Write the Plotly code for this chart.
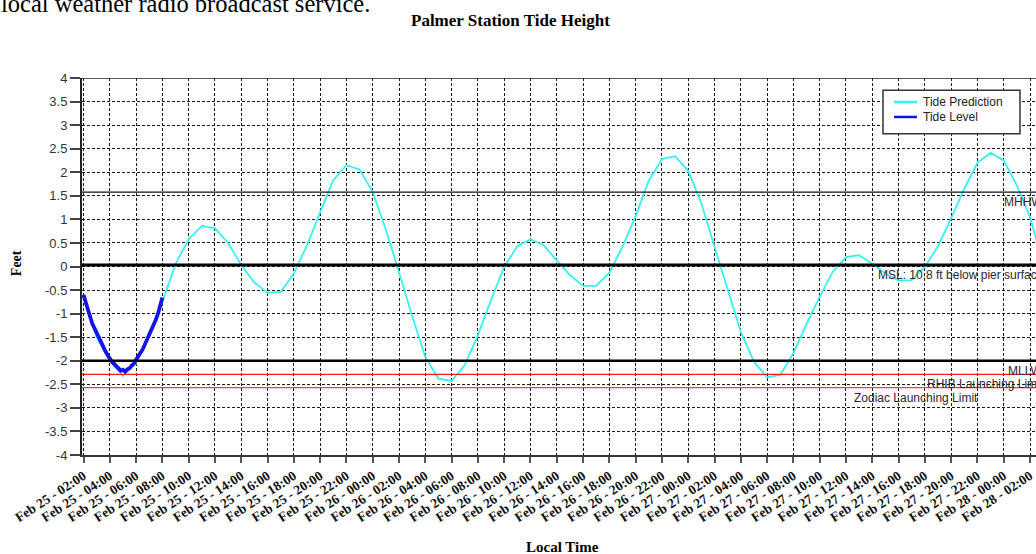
import pandas as pd
import plotly.graph_objects as go

# Hourly predicted tide height (ft), starting Feb 25 02:00
prediction_start = "2023-02-25 02:00"
predicted_ft = [
    -0.62, -1.50, -2.00, -2.32, -2.05, -1.48, -0.75, 0.05, 0.58, 0.86,
    0.81, 0.50, 0.03, -0.34, -0.56, -0.54, -0.15, 0.45, 1.15, 1.83,
    2.15, 2.06, 1.58, 0.78, -0.12, -1.05, -1.92, -2.38, -2.43, -2.09,
    -1.46, -0.71, -0.01, 0.43, 0.58, 0.45, 0.13, -0.18, -0.41, -0.41,
    -0.13, 0.42, 1.07, 1.82, 2.28, 2.34, 2.03, 1.34, 0.42, -0.50,
    -1.39, -2.02, -2.35, -2.30, -1.84, -1.22, -0.64, -0.11, 0.20, 0.24,
    0.06, -0.15, -0.30, -0.29, -0.01, 0.43, 1.02, 1.65, 2.20, 2.41,
    2.25, 1.72, 1.05, 0.05,
]

# Measured tide level (ft), every 10 minutes from Feb 25 02:00
observed_start = "2023-02-25 02:00"
observed_ft = [
    -0.60, -0.78, -0.93, -1.06, -1.21, -1.30, -1.43, -1.51, -1.61, -1.70,
    -1.80, -1.86, -1.95, -2.02, -2.07, -2.12, -2.16, -2.21, -2.19, -2.23,
    -2.18, -2.16, -2.10, -2.06, -1.98, -1.92, -1.83, -1.76, -1.66, -1.55,
    -1.47, -1.36, -1.23, -1.13, -1.00, -0.86, -0.66,
]

# Reference levels (ft): label, value, colour, width, where the caption starts
ref_names = ["MHHW", "MSL: 10.8 ft below pier surface", "MLLW",
             "RHIB Launching Limit", "Zodiac Launching Limit"]
ref_values = [1.58, 0.03, -2.0, -2.29, -2.57]
ref_colors = ["#111111", "#000000", "#000000", "#ff1a1a", "#ff3b3b"]
ref_widths = [1.2, 3, 2.5, 1.2, 1.2]
ref_label_at = ["2023-02-27 23:51", "2023-02-27 14:17", "2023-02-28 00:10",
                "2023-02-27 18:00", "2023-02-27 12:26"]

y_ticks = [4, 3.5, 3, 2.5, 2, 1.5, 1, 0.5, 0, -0.5, -1, -1.5, -2, -2.5,
           -3, -3.5, -4]
y_tick_text = ["4", "3.5", "3", "2.5", "2", "1.5", "1", "0.5", "0", "-0.5",
               "-1", "-1.5", "-2", "-2.5", "-3", "-3.5", "-4"]

series_names = ["Tide Prediction", "Tide Level"]
series_colors = ["#35F2F2", "#1414E8"]
series_widths = [1.8, 3.8]

pred_times = pd.date_range(prediction_start, periods=len(predicted_ft), freq="h")
obs_times = pd.date_range(observed_start, periods=len(observed_ft), freq="10min")

# plot area in pixels: x 82..1036, y 78..455
PL, PR, PT, PB = 82, 1036, 77.7, 455


def px(x):
    return (x - PL) / (PR - PL)


def py(y):
    return (PB - y) / (PB - PT)


fig = go.Figure()
for times, vals, name, col, w in zip([pred_times, obs_times],
                                     [predicted_ft, observed_ft],
                                     series_names, series_colors,
                                     series_widths):
    fig.add_trace(go.Scatter(x=times, y=vals, mode="lines", name=name,
                             line=dict(color=col, width=w), showlegend=False))

# Reference level lines and their captions
for name, val, col, w, at in zip(ref_names, ref_values, ref_colors,
                                 ref_widths, ref_label_at):
    fig.add_shape(type="line", xref="paper", x0=0, x1=1, yref="y",
                  y0=val, y1=val, line=dict(color=col, width=w), layer="above")
    fig.add_annotation(x=at, y=val, xref="x", yref="y", text=name,
                       showarrow=False, xanchor="left", yanchor="top",
                       yshift=-1, font=dict(family="Liberation Sans", size=12,
                                            color="#2c2536"))

# Solid top border of the plot
fig.add_shape(type="line", xref="paper", x0=0, x1=1, yref="y", y0=4, y1=4,
              line=dict(color="#222222", width=1.5), layer="above")

# Boxed legend
fig.add_shape(type="rect", xref="paper", yref="paper",
              x0=px(883), x1=px(1020), y0=py(90), y1=py(133.5),
              line=dict(color="#333", width=1.5), fillcolor="white",
              layer="above")
for i, (name, col) in enumerate(zip(series_names, series_colors)):
    yy = py(101.7 + 15 * i)
    fig.add_shape(type="line", xref="paper", yref="paper",
                  x0=px(894), x1=px(917), y0=yy, y1=yy,
                  line=dict(color=col, width=2.5), layer="above")
    fig.add_annotation(xref="paper", yref="paper", x=px(921), y=yy,
                       xanchor="left", yanchor="middle", text=name,
                       showarrow=False,
                       font=dict(family="Liberation Sans", size=12,
                                 color="#222"))

# Page text above the chart
fig.add_annotation(xref="paper", yref="paper", x=px(-1), y=py(19),
                   xanchor="left", yanchor="bottom",
                   text="local weather radio broadcast service.",
                   showarrow=False,
                   font=dict(family="Liberation Serif", size=24.5,
                             color="#000"))

fig.add_annotation(xref="paper", yref="paper", x=px(510), y=py(20),
                   xanchor="center", yanchor="middle",
                   text="Palmer Station Tide Height", showarrow=False,
                   font=dict(family="Liberation Serif", size=17, color="#000",
                             weight="bold"))
fig.add_annotation(xref="paper", yref="paper", x=px(16), y=py(263),
                   xanchor="center", yanchor="middle",
                   text="Feet", textangle=-90, showarrow=False,
                   font=dict(family="Liberation Serif", size=14, color="#000",
                             weight="bold"))
fig.add_annotation(xref="paper", yref="paper", x=px(562), y=py(547),
                   xanchor="center", yanchor="middle",
                   text="Local Time", showarrow=False,
                   font=dict(family="Liberation Serif", size=15, color="#000",
                             weight="bold"))

grid_style = dict(showgrid=True, gridcolor="#1a1a1a", gridwidth=1,
                  griddash="3px,2px")

fig.update_xaxes(
    type="date",
    range=["2023-02-25 01:53:10", "2023-02-28 02:27:20"],
    tick0="2023-02-25 02:00", dtick=7200000,
    tickformat="%b %d - %H:%M", tickangle=-33,
    ticks="outside", ticklen=6, tickcolor="#555", tickwidth=1.5,
    tickfont=dict(family="Liberation Serif", size=13.5, color="#111",
                  weight="bold"),
    showline=True, linecolor="#333", linewidth=2,
    zeroline=False, **grid_style,
)
fig.update_yaxes(
    range=[-4, 4], tickvals=y_ticks, ticktext=y_tick_text,
    ticks="outside", ticklen=10, tickcolor="#444", tickwidth=1.5,
    tickfont=dict(family="Liberation Sans", size=13, color="#333"),
    showline=True, linecolor="#222", linewidth=2,
    zeroline=False, **grid_style,
)

fig.update_layout(
    width=1036, height=554,
    margin=dict(l=82, r=0, t=78, b=99),
    paper_bgcolor="white", plot_bgcolor="white",
    showlegend=False,
)

fig.write_html("out.html")
